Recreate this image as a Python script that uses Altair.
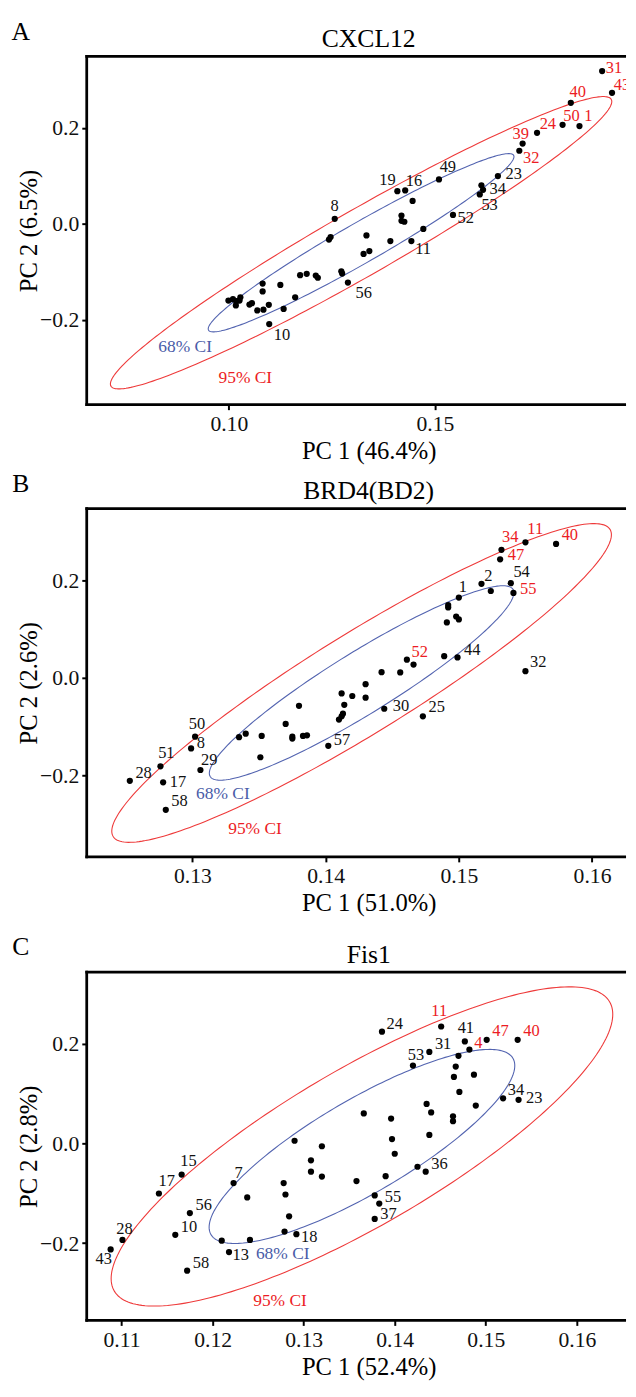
import altair as alt
import numpy as np
import pandas as pd

FONT = "Liberation Serif"
BLACK = "#111111"
RED = "#EC1C24"
RED_LINE = "#EE3A3A"
BLUE = "#4A5CA8"
BLUE_LINE = "#5364B0"
W, H = 548, 354

# ---------------- Panel A : CXCL12 ----------------
A_pc1 = [0.1257, 0.1243, 0.1247, 0.1327, 0.1341, 0.1334, 0.1273, 0.1275, 0.1289, 0.1173,
         0.1189, 0.1211, 0.1216, 0.1082, 0.1125, 0.1082, 0.1161, 0.0999, 0.1010, 0.1018,
         0.1028, 0.1026, 0.1017, 0.1050, 0.1056, 0.1069, 0.1084, 0.1097, 0.1133, 0.1098,
         0.1906, 0.1930, 0.1830, 0.1810, 0.1851, 0.1748, 0.1713, 0.1705, 0.1653, 0.1617,
         0.1613, 0.1609, 0.1510, 0.1409, 0.1428, 0.1446, 0.1419, 0.1419, 0.1426, 0.1544,
         0.1472, 0.1443, 0.1392]
A_pc2 = [0.0108, -0.0325, -0.0273, -0.0624, -0.0563, -0.0238, -0.0984, -0.1031, -0.1220, -0.1066,
         -0.1037, -0.1072, -0.1119, -0.1241, -0.1269, -0.1403, -0.1525, -0.1594, -0.1566, -0.1607,
         -0.1525, -0.1594, -0.1696, -0.1676, -0.1647, -0.1798, -0.1784, -0.1682, -0.1769, -0.2083,
         0.3185, 0.2731, 0.2522, 0.2066, 0.2040, 0.1898, 0.1674, 0.1525, 0.0997, 0.0712,
         0.0805, 0.0616, 0.0927, 0.0683, 0.0698, 0.0480, 0.0175, 0.0067, 0.0047, 0.0189,
         -0.0102, -0.0354, -0.0354]
A_lab = ["8", "", "", "", "", "", "", "", "56", "",
         "", "", "", "", "", "", "", "", "", "",
         "", "", "", "", "", "", "", "", "", "10",
         "31", "43", "40", "50", "1", "24", "39", "32", "23", "34",
         "", "53", "49", "19", "16", "", "", "", "", "52",
         "", "11", ""]
A_red = ["31", "43", "40", "50", "1", "24", "39", "32"]
A_nudge = {"8": (0, -13), "10": (13, 11), "56": (16, 11), "11": (12, 8), "52": (13, 3),
           "53": (10, 11), "34": (15, -1), "23": (16, -2), "49": (9, -13), "16": (9, -10),
           "19": (-10, -11), "32": (12, 7), "39": (-2, -10), "24": (11, -9), "50": (9, -9),
           "1": (9, -10), "40": (7, -11), "31": (12, -3), "43": (10, -8)}
A_xlim = [0.065511, 0.196399]
A_ylim = [-0.37625, 0.34900]
A_xticks = [0.10, 0.15]
A_center = (0.1321, -0.0390)
A_e68 = ((0.03702, 0.1820), (0.002448, -0.03611))
A_e95 = ((0.06071, 0.2985), (0.004013, -0.05918))
A_ci68 = (0.0894, -0.2556)
A_ci95 = (0.1040, -0.3207)

# ---------------- Panel B : BRD4(BD2) ----------------
B_pc1 = [0.1253, 0.1276, 0.1278, 0.1280, 0.1302, 0.1299, 0.1306, 0.1335, 0.1340, 0.1352,
         0.1351, 0.1370, 0.1380, 0.1375, 0.1375, 0.1383, 0.1386, 0.1402, 0.1410, 0.1412,
         0.1413, 0.1414, 0.1412, 0.1420, 0.1430, 0.1430, 0.1444, 0.1473, 0.1442, 0.1456,
         0.1461, 0.1466, 0.1489, 0.1499, 0.1550, 0.1491, 0.1498, 0.1500, 0.1492, 0.1492,
         0.1500, 0.1517, 0.1524, 0.1539, 0.1541, 0.1532, 0.1531, 0.1550, 0.1573]
B_pc2 = [-0.2112, -0.1815, -0.2144, -0.2709, -0.1204, -0.1446, -0.1890, -0.1216, -0.1144, -0.1190,
         -0.1628, -0.0942, -0.0571, -0.1204, -0.1244, -0.1190, -0.1176, -0.1392, -0.0853, -0.0787,
         -0.0732, -0.0551, -0.0317, -0.0369, -0.0127, -0.0403, -0.0631, -0.0787, 0.0121, 0.0115,
         0.0377, 0.0276, 0.0450, 0.0424, 0.0141, 0.1144, 0.1265, 0.1204, 0.1499, 0.1452,
         0.1654, 0.1936, 0.1789, 0.1950, 0.1749, 0.2636, 0.2441, 0.2789, 0.2757]
B_lab = ["28", "51", "17", "58", "50", "8", "29", "", "", "",
         "", "", "", "", "", "", "", "57", "", "",
         "", "", "", "", "", "", "30", "25", "", "",
         "52", "", "", "44", "32", "", "", "", "", "",
         "1", "2", "", "54", "55", "34", "47", "11", "40"]
B_red = ["34", "11", "40", "47", "55", "52"]
B_nudge = {"28": (14, -8), "51": (6, -13), "17": (15, 0), "58": (14, -9), "50": (2, -13),
           "8": (10, -5), "29": (9, -10), "57": (14, -6), "30": (17, -3), "25": (14, -9),
           "44": (15, -7), "32": (13, -9), "52": (13, -8), "1": (4, -11), "2": (7, -8),
           "54": (11, -11), "55": (15, -4), "34": (9, -13), "47": (16, -4), "11": (10, -13),
           "40": (14, -9)}
B_xlim = [0.122065, 0.162552]
B_ylim = [-0.36770, 0.34833]
B_xticks = [0.13, 0.14, 0.15, 0.16]
B_center = (0.1427, -0.0101)
B_e68 = ((0.011365, 0.19239), (0.0012265, -0.05400))
B_e95 = ((0.018649, 0.31569), (0.001986, -0.08742))
B_ci68 = (0.13229, -0.2386)
B_ci95 = (0.1347, -0.3106)

# ---------------- Panel C : Fis1 ----------------
C_pc1 = [0.1088, 0.1101, 0.1141, 0.1166, 0.1175, 0.1159, 0.1172, 0.1223, 0.1238, 0.1210,
         0.1218, 0.1241, 0.1278, 0.1280, 0.1284, 0.1279, 0.1292, 0.1290, 0.1308, 0.1308,
         0.1320, 0.1320, 0.1358, 0.1366, 0.1386, 0.1451, 0.1477, 0.1482, 0.1501, 0.1535,
         0.1438, 0.1420, 0.1470, 0.1467, 0.1465, 0.1487, 0.1471, 0.1489, 0.1519, 0.1536,
         0.1435, 0.1440, 0.1464, 0.1464, 0.1396, 0.1397, 0.1438, 0.1400, 0.1425, 0.1434,
         0.1390, 0.1378, 0.1383, 0.1378]
C_pc2 = [-0.2127, -0.1937, -0.1004, -0.0624, -0.1396, -0.1833, -0.2553, -0.0794, -0.1082, -0.1951,
         -0.2180, -0.1937, -0.0794, -0.1024, -0.1461, -0.1769, -0.1820, 0.0055, -0.0337, -0.0565,
         -0.0055, -0.0663, -0.0755, 0.0604, 0.2245, 0.2349, 0.2049, 0.1886, 0.2082, 0.2082,
         0.1839, 0.1565, 0.1761, 0.1545, 0.1337, 0.1382, 0.1035, 0.0761, 0.0906, 0.0878,
         0.0794, 0.0624, 0.0545, 0.0447, 0.0500, 0.0088, 0.0173, -0.0206, -0.0467, -0.0565,
         -0.0657, -0.1043, -0.1206, -0.1514]
C_lab = ["43", "28", "17", "15", "56", "10", "58", "7", "", "",
         "13", "", "", "", "", "", "18", "", "", "",
         "", "", "", "", "24", "11", "41", "4", "47", "40",
         "31", "53", "", "", "", "", "", "", "34", "23",
         "", "", "", "", "", "", "", "", "", "36",
         "", "", "55", "37"]
C_red = ["11", "4", "47", "40"]
C_nudge = {"24": (13, -8), "11": (-2, -16), "41": (1, -14), "4": (9, -7), "47": (14, -9),
           "40": (14, -9), "31": (14, -8), "53": (3, -11), "34": (13, -8), "23": (16, -2),
           "36": (14, -8), "55": (14, -7), "37": (14, -5), "18": (13, 3), "13": (12, 3),
           "7": (5, -10), "15": (7, -14), "17": (8, -13), "56": (14, -8), "10": (14, -8),
           "28": (2, -11), "43": (-7, 10), "58": (14, -8)}
C_xlim = [0.106174, 0.165402]
C_ylim = [-0.35530, 0.34412]
C_xticks = [0.11, 0.12, 0.13, 0.14, 0.15, 0.16]
C_center = (0.1364, -0.0059)
C_e68 = ((0.016576, 0.17713), (0.002633, -0.08109))
C_e95 = ((0.027193, 0.29057), (0.004388, -0.13515))
C_ci68 = (0.1277, -0.2212)
C_ci95 = (0.1274, -0.3161)

Y_TICKS = [-0.2, 0.0, 0.2]
FRAME = 2.8
TITLE_X = 286.5


def ellipse_df(center, axes):
    major, minor = axes
    t = np.linspace(0.0, 2.0 * np.pi, 241)
    return pd.DataFrame({
        "pc1": center[0] + major[0] * np.cos(t) + minor[0] * np.sin(t),
        "pc2": center[1] + major[1] * np.cos(t) + minor[1] * np.sin(t),
        "k": np.arange(t.size),
    })


def panel(letter, title, xtitle, ytitle, pc1, pc2, labs, reds, nudge,
          xlim, ylim, xticks, center, e68, e95, ci68, ci95):
    xs = alt.Scale(domain=xlim, nice=False, zero=False)
    ys = alt.Scale(domain=ylim, nice=False, zero=False)
    X = alt.X("pc1:Q", scale=xs,
              axis=alt.Axis(values=xticks, format=".2f", title=xtitle,
                            titleX=TITLE_X, titleY=46.5, titleBaseline="middle"))
    Y = alt.Y("pc2:Q", scale=ys,
              axis=alt.Axis(values=Y_TICKS, format=".1f", title=ytitle,
                            titleX=-59, titleBaseline="middle"))

    layers = []
    for df, col in ((ellipse_df(center, e95), RED_LINE), (ellipse_df(center, e68), BLUE_LINE)):
        layers.append(alt.Chart(df).mark_line(color=col, strokeWidth=1.1, clip=True)
                      .encode(X, Y, order="k:Q"))

    pts = pd.DataFrame({"pc1": pc1, "pc2": pc2, "lab": labs})
    layers.append(alt.Chart(pts).mark_circle(size=40, color="black", opacity=1, clip=True)
                  .encode(X, Y))

    lab = pts[pts["lab"] != ""].copy()
    lab["col"] = [RED if l in reds else BLACK for l in lab["lab"]]
    lab["dx"] = [nudge[l][0] for l in lab["lab"]]
    lab["dy"] = [nudge[l][1] for l in lab["lab"]]
    for (dx, dy), sub in lab.groupby(["dx", "dy"]):
        layers.append(alt.Chart(sub).mark_text(font=FONT, fontSize=16.7, align="center",
                                               baseline="middle", dx=int(dx), dy=int(dy),
                                               clip=True)
                      .encode(X, Y, text="lab:N", color=alt.Color("col:N", scale=None)))

    ci = pd.DataFrame({"pc1": [ci68[0], ci95[0]], "pc2": [ci68[1], ci95[1]],
                       "txt": ["68% CI", "95% CI"], "col": [BLUE, RED]})
    layers.append(alt.Chart(ci).mark_text(font=FONT, fontSize=17.7, align="center",
                                          baseline="middle", clip=True)
                  .encode(X, Y, text="txt:N", color=alt.Color("col:N", scale=None)))

    one = pd.DataFrame({"t": [letter], "g": [title]})
    # plot frame: left, top and bottom sides (the right side lies beyond the picture)
    layers.append(alt.Chart(one).mark_rule(color="black", strokeWidth=FRAME)
                  .encode(x=alt.value(0), y=alt.value(-FRAME / 2), y2=alt.value(H + FRAME / 2)))
    layers.append(alt.Chart(one).mark_rule(color="black", strokeWidth=FRAME)
                  .encode(x=alt.value(-FRAME / 2), x2=alt.value(W), y=alt.value(0)))
    layers.append(alt.Chart(one).mark_rule(color="black", strokeWidth=FRAME)
                  .encode(x=alt.value(-FRAME / 2), x2=alt.value(W), y=alt.value(H)))

    layers.append(alt.Chart(one)
                  .mark_text(font=FONT, fontSize=26, align="center", baseline="middle", color="black")
                  .encode(x=alt.value(-67), y=alt.value(-25), text="t:N"))
    layers.append(alt.Chart(one)
                  .mark_text(font=FONT, fontSize=26, align="center", baseline="middle", color="black")
                  .encode(x=alt.value(TITLE_X), y=alt.value(-17.5), text="g:N"))

    return alt.layer(*layers).properties(width=W, height=H)


pA = panel("A", "CXCL12", "PC 1 (46.4%)", "PC 2 (6.5%)", A_pc1, A_pc2, A_lab, A_red, A_nudge,
           A_xlim, A_ylim, A_xticks, A_center, A_e68, A_e95, A_ci68, A_ci95)
pB = panel("B", "BRD4(BD2)", "PC 1 (51.0%)", "PC 2 (2.6%)", B_pc1, B_pc2, B_lab, B_red, B_nudge,
           B_xlim, B_ylim, B_xticks, B_center, B_e68, B_e95, B_ci68, B_ci95)
pC = panel("C", "Fis1", "PC 1 (52.4%)", "PC 2 (2.8%)", C_pc1, C_pc2, C_lab, C_red, C_nudge,
           C_xlim, C_ylim, C_xticks, C_center, C_e68, C_e95, C_ci68, C_ci95)

chart = (
    alt.vconcat(pA, alt.vconcat(pB, pC, spacing=19), spacing=7.5)
    .properties(padding={"left": 3, "top": 0, "right": 0, "bottom": 0}, background="white")
    .configure_view(stroke=None, fill="white")
    .configure_axis(grid=False, domain=False, ticks=True, tickColor="black", tickWidth=2,
                    tickSize=5, labelFont=FONT, labelFontSize=22, labelColor=BLACK,
                    labelPadding=3, titleFont=FONT, titleFontSize=25,
                    titleFontWeight="normal", titleColor="black")
    .configure_axisX(labelPadding=4)
)

chart.save("out.html", embed_options={"renderer": "svg", "actions": False})
